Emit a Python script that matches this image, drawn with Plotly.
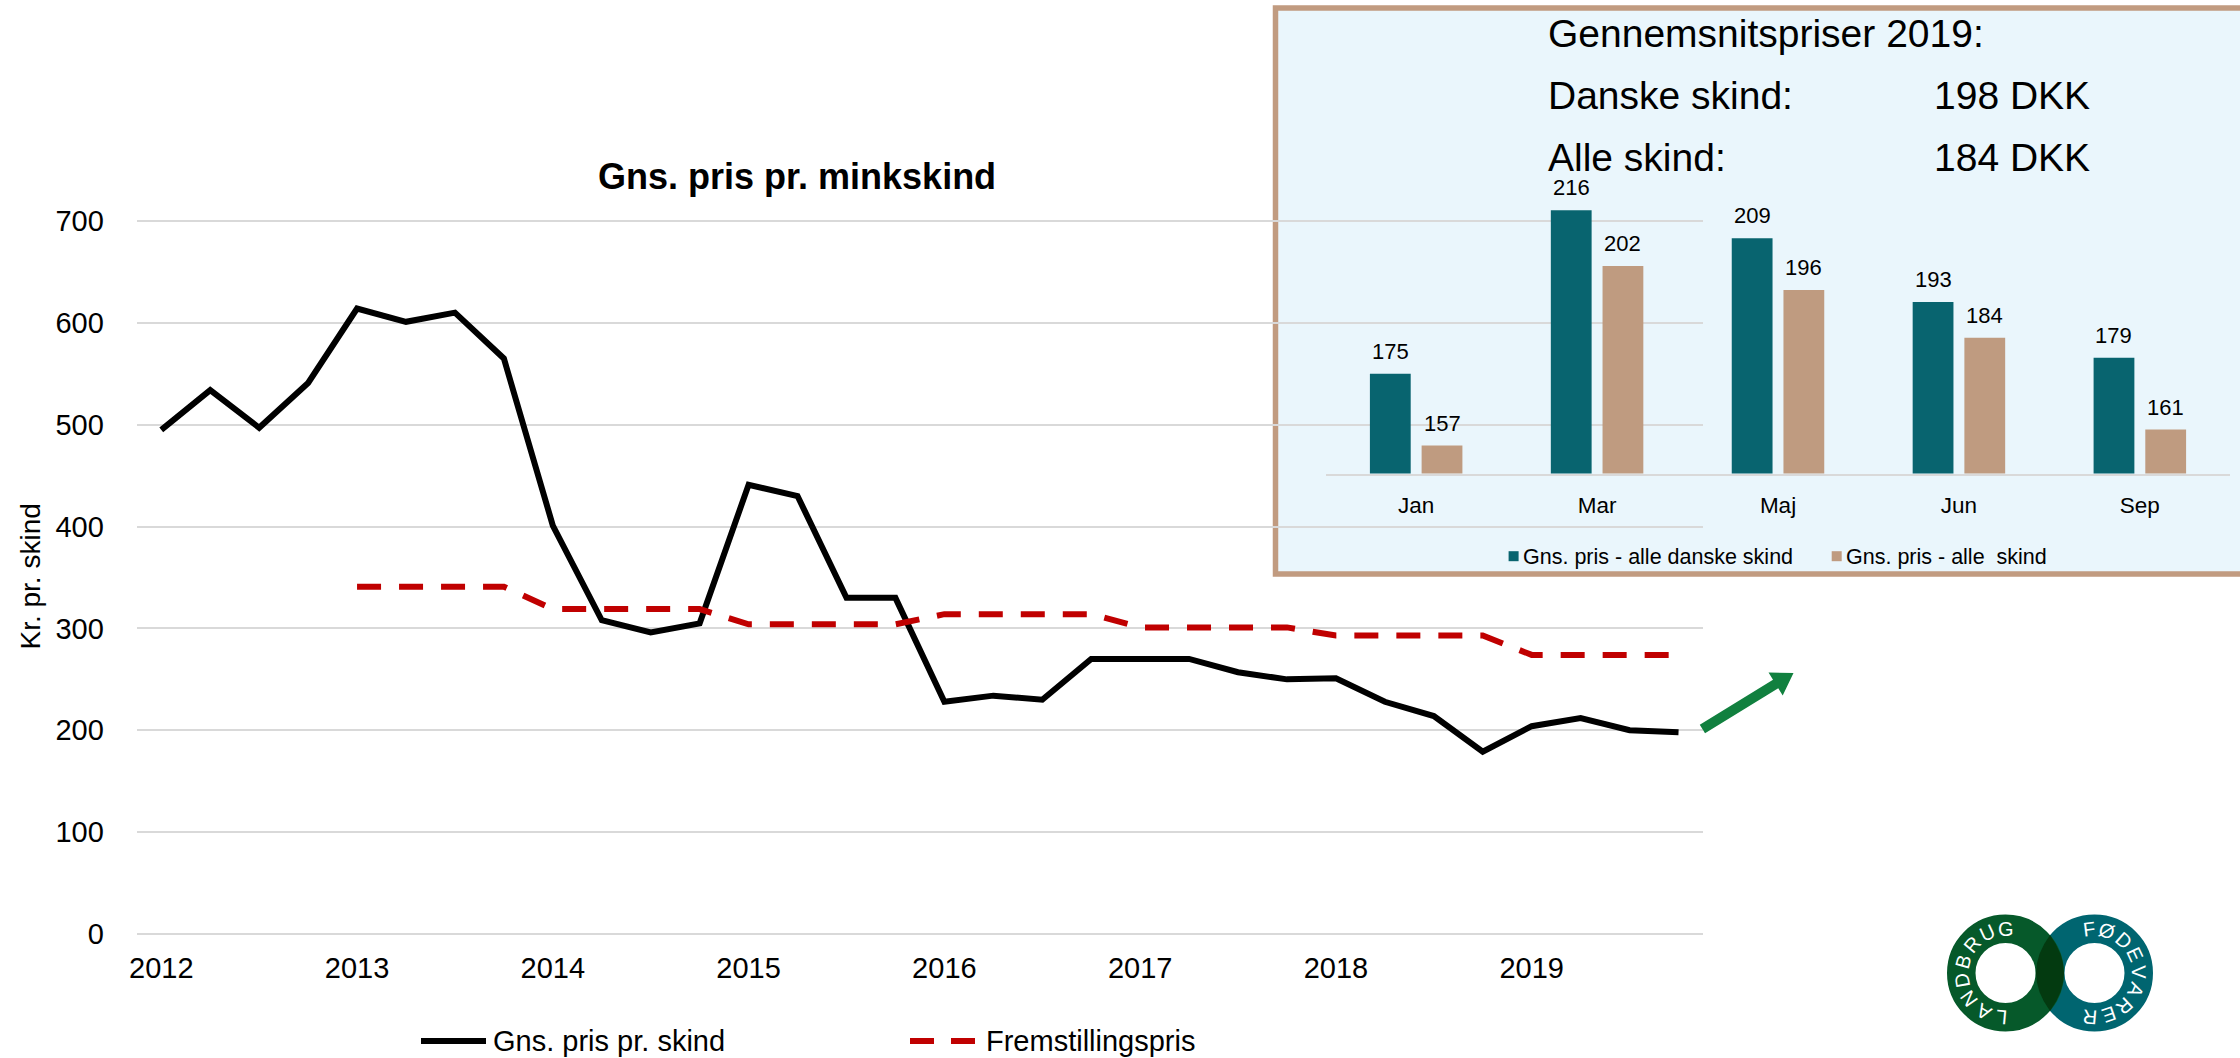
import math
import plotly.graph_objects as go

W, H = 2240, 1058
FONT = "Liberation Sans, Arial, sans-serif"

# ---------------- data ----------------
years = [2012, 2013, 2014, 2015, 2016, 2017, 2018, 2019]
quarter_offsets = [0.0, 0.25, 0.5, 0.75]
price_per_skin = [495, 534, 497, 541, 614, 601, 610, 565,
                  401, 308, 296, 305, 441, 430, 330, 330,
                  228, 234, 230, 270, 270, 270, 257, 250,
                  251, 228, 214, 179, 204, 212, 200, 198]
production_cost = [None, None, None, None, 341, 341, 341, 341,
                   319, 319, 319, 319, 304, 304, 304, 304,
                   314, 314, 314, 314, 301, 301, 301, 301,
                   293, 293, 293, 293, 274, 274, 274, 274]
y_ticks = [0, 100, 200, 300, 400, 500, 600, 700]

months_2019 = ["Jan", "Mar", "Maj", "Jun", "Sep"]
danish_avg = [175, 216, 209, 193, 179]
all_avg = [157, 202, 196, 184, 161]

x_quarters = [y + q for y in years for q in quarter_offsets]


def px(x):
    return x / W


def py(y):
    return 1 - y / H


fig = go.Figure()

# main series
fig.add_trace(go.Scatter(x=x_quarters, y=price_per_skin, mode="lines",
                         line=dict(color="#000000", width=6),
                         name="Gns. pris pr. skind", xaxis="x", yaxis="y"))
fig.add_trace(go.Scatter(x=x_quarters, y=production_cost, mode="lines",
                         line=dict(color="#C00000", width=6, dash="24px,18px"),
                         name="Fremstillingspris", xaxis="x", yaxis="y"))

# inset bars
TEAL = "#08646F"
TAN = "#BF9B80"
fig.add_trace(go.Bar(x=months_2019, y=danish_avg, marker=dict(color=TEAL, line=dict(width=0)),
                     name="Gns. pris - alle danske skind", xaxis="x2", yaxis="y2"))
fig.add_trace(go.Bar(x=months_2019, y=all_avg, marker=dict(color=TAN, line=dict(width=0)),
                     name="Gns. pris - alle  skind", xaxis="x2", yaxis="y2"))

shapes = []
annotations = []

# inset background box (below grid)
shapes.append(dict(type="rect", xref="paper", yref="paper",
                   x0=px(1275.5), x1=px(2250), y0=py(574), y1=py(8),
                   fillcolor="#EAF6FC", line=dict(color="#C19B80", width=5.5),
                   layer="below"))

# inset data labels
slot = 51.7
for i, m in enumerate(months_2019):
    annotations.append(dict(x=m, y=danish_avg[i], xref="x2", yref="y2", text=str(danish_avg[i]),
                            showarrow=False, xshift=-slot / 2, yshift=22.5, yanchor="middle",
                            font=dict(size=22, color="#000000", family=FONT)))
    annotations.append(dict(x=m, y=all_avg[i], xref="x2", yref="y2", text=str(all_avg[i]),
                            showarrow=False, xshift=slot / 2, yshift=22.5, yanchor="middle",
                            font=dict(size=22, color="#000000", family=FONT)))

# inset header text
for txt, yy in [("Gennemsnitspriser 2019:", 33.5), ("Danske skind:", 96.0), ("Alle skind:", 157.5)]:
    annotations.append(dict(x=px(1546), y=py(yy), xref="paper", yref="paper", text=txt,
                            showarrow=False, xanchor="left", yanchor="middle",
                            font=dict(size=39, color="#000000", family=FONT)))
for txt, yy in [("198 DKK", 96.0), ("184 DKK", 157.5)]:
    annotations.append(dict(x=px(1932), y=py(yy), xref="paper", yref="paper", text=txt,
                            showarrow=False, xanchor="left", yanchor="middle",
                            font=dict(size=39, color="#000000", family=FONT)))

# inset legend
for (sx, col, txt) in [(1508.6, TEAL, "Gns. pris - alle danske skind"),
                       (1831.7, TAN, "Gns. pris - alle\u00a0 skind")]:
    shapes.append(dict(type="rect", xref="paper", yref="paper",
                       x0=px(sx), x1=px(sx + 10), y0=py(561.2), y1=py(551.2),
                       fillcolor=col, line=dict(width=0)))
    annotations.append(dict(x=px(sx + 12.5), y=py(556.5), xref="paper", yref="paper", text=txt,
                            showarrow=False, xanchor="left", yanchor="middle",
                            font=dict(size=21.5, color="#000000", family=FONT)))

# main title
annotations.append(dict(x=px(797), y=py(176), xref="paper", yref="paper",
                        text="<b>Gns. pris pr. minkskind</b>", showarrow=False,
                        xanchor="center", yanchor="middle",
                        font=dict(size=36, color="#000000", family=FONT)))
# y axis title
annotations.append(dict(x=px(29.5), y=py(577), xref="paper", yref="paper",
                        text="Kr. pr. skind", showarrow=False, textangle=-90,
                        xanchor="center", yanchor="middle",
                        font=dict(size=28, color="#000000", family=FONT)))

# main legend
shapes.append(dict(type="line", xref="paper", yref="paper", x0=px(421), x1=px(486),
                   y0=py(1041), y1=py(1041), line=dict(color="#000000", width=6)))
annotations.append(dict(x=px(490.5), y=py(1041), xref="paper", yref="paper",
                        text="Gns. pris pr. skind", showarrow=False, xanchor="left", yanchor="middle",
                        font=dict(size=29, color="#000000", family=FONT)))
shapes.append(dict(type="line", xref="paper", yref="paper", x0=px(910), x1=px(975),
                   y0=py(1041), y1=py(1041), line=dict(color="#C00000", width=6, dash="24px,17px")))
annotations.append(dict(x=px(983.5), y=py(1041), xref="paper", yref="paper",
                        text="Fremstillingspris", showarrow=False, xanchor="left", yanchor="middle",
                        font=dict(size=29, color="#000000", family=FONT)))

# green arrow
T = (1702.4, 729.1)
P = (1793.5, 673.0)
dx, dy = P[0] - T[0], P[1] - T[1]
L = math.hypot(dx, dy)
ux, uy = dx / L, dy / L
nx, ny = -uy, ux
hw, head_len, head_hw = 5.0, 21.0, 13.5
B = (P[0] - head_len * ux, P[1] - head_len * uy)
pts = [(T[0] + hw * nx, T[1] + hw * ny), (B[0] + hw * nx, B[1] + hw * ny),
       (B[0] + head_hw * nx, B[1] + head_hw * ny), P,
       (B[0] - head_hw * nx, B[1] - head_hw * ny), (B[0] - hw * nx, B[1] - hw * ny),
       (T[0] - hw * nx, T[1] - hw * ny)]
path = "M " + " L ".join(f"{px(a):.5f},{py(b):.5f}" for a, b in pts) + " Z"
shapes.append(dict(type="path", xref="paper", yref="paper", path=path,
                   fillcolor="#11803F", line=dict(width=0)))

# logo
CY = 973.0
LC, RC = 2005.5, 2094.5
RMID, BAND = 44.25, 28.5
for cx, col in [(RC, "#006570"), (LC, "#06592A")]:
    shapes.append(dict(type="circle", xref="paper", yref="paper",
                       x0=px(cx - RMID), x1=px(cx + RMID), y0=py(CY + RMID), y1=py(CY - RMID),
                       line=dict(color=col, width=BAND), fillcolor="rgba(0,0,0,0)"))
# darker overlap lens
ROUT = RMID + BAND / 2
d = RC - LC
half_h = math.sqrt(ROUT ** 2 - (d / 2) ** 2)
xm = (LC + RC) / 2
x_left = RC - ROUT
x_right = LC + ROUT
lens = (f"M {px(xm):.5f},{py(CY - half_h):.5f} "
        f"Q {px(2 * x_left - xm):.5f},{py(CY):.5f} {px(xm):.5f},{py(CY + half_h):.5f} "
        f"Q {px(2 * x_right - xm):.5f},{py(CY):.5f} {px(xm):.5f},{py(CY - half_h):.5f} Z")
shapes.append(dict(type="path", xref="paper", yref="paper", path=lens,
                   fillcolor="#033A10", line=dict(width=0)))
# letters
for word, cx, start, step in [("LANDBRUG", LC, 265, -25), ("FØDEVARER", RC, 97, -24)]:
    for k, ch in enumerate(word):
        th = start + step * k
        lx = cx + RMID * math.cos(math.radians(th))
        ly = CY - RMID * math.sin(math.radians(th))
        annotations.append(dict(x=px(lx), y=py(ly), xref="paper", yref="paper", text=ch,
                                showarrow=False, textangle=90 - th, xanchor="center", yanchor="middle",
                                font=dict(size=20, color="#FFFFFF", family=FONT)))

# axes geometry
Y0_PX, PX_PER_UNIT = 934.0, 1.0186
YMAX = 705
y_top_px = Y0_PX - YMAX * PX_PER_UNIT

Y2_BASE_PX, PX2_PER_UNIT = 473.5, 3.989
Y2_MIN, Y2_MAX = 150, 230
y2_top_px = Y2_BASE_PX - (Y2_MAX - Y2_MIN) * PX2_PER_UNIT

fig.update_layout(
    width=W, height=H,
    autosize=False,
    margin=dict(l=0, r=0, t=0, b=0, pad=0, autoexpand=False),
    paper_bgcolor="#FFFFFF",
    plot_bgcolor="rgba(0,0,0,0)",
    showlegend=False,
    barmode="group", bargap=0.4284, bargroupgap=0.211,
    font=dict(family=FONT, color="#000000"),
    xaxis=dict(domain=[px(136.8), px(1703)], range=[2011.875, 2019.875],
               tickvals=years, ticktext=[str(y) for y in years],
               showgrid=False, zeroline=False, showline=False, ticks="",
               ticklabelstandoff=14, tickfont=dict(size=29, family=FONT, color="#000000"),
               anchor="y", fixedrange=True, automargin=False),
    yaxis=dict(domain=[py(Y0_PX), py(y_top_px)], range=[0, YMAX],
               tickvals=y_ticks, showgrid=True, gridcolor="#D9D9D9", gridwidth=1.8,
               zeroline=True, zerolinecolor="#D9D9D9", zerolinewidth=1.8,
               showline=False, ticks="", ticklabelstandoff=32,
               tickfont=dict(size=29, family=FONT, color="#000000"),
               anchor="x", fixedrange=True, automargin=False),
    xaxis2=dict(domain=[px(1325.7), px(2230.3)], anchor="y2",
                showgrid=False, zeroline=False, showline=True, linecolor="#D9D9D9", linewidth=2,
                ticks="", ticklabelstandoff=10,
                tickfont=dict(size=22.5, family=FONT, color="#000000"), fixedrange=True,
                automargin=False),
    yaxis2=dict(domain=[py(Y2_BASE_PX), py(y2_top_px)], range=[Y2_MIN, Y2_MAX], anchor="x2",
                visible=False, showgrid=False, zeroline=False, fixedrange=True, automargin=False),
    shapes=shapes,
    annotations=annotations,
)

fig.write_html("out.html", include_plotlyjs=True, config={"displayModeBar": False},
               post_script="document.body.style.margin='0';document.body.style.overflow='hidden';")
